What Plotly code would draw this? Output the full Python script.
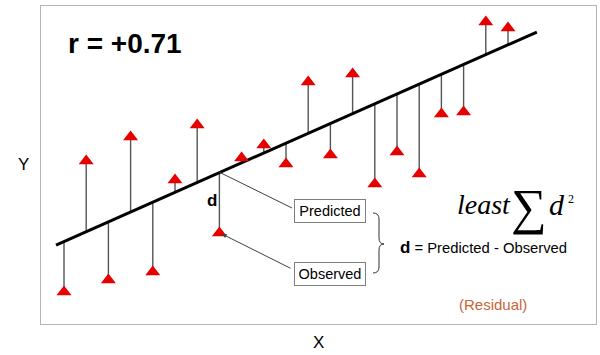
import plotly.graph_objects as go

# ---- data ----
x_idx = list(range(1, 22))
observed = [3.2, 16.3, 4.4, 18.7, 5.2, 14.4, 19.9, 9.1, 16.6, 17.9, 16.0,
            24.2, 16.9, 25.0, 14.0, 17.2, 15.0, 21.0, 21.2, 30.2, 29.6]
INTERCEPT = 7.27
SLOPE = 0.983
line_x = [0.64, 22.3]
r_label = "r = +0.71"

predicted = [INTERCEPT + SLOPE * x for x in x_idx]
line_y = [INTERCEPT + SLOPE * x for x in line_x]

# ---- layout helpers (pixel -> axis) ----
W, H = 600, 355
ML, MR, MT, MB = 41, 4, 6, 31
XR = [-0.036, 24.964]
YR = [0, 31.8]
pw, ph = W - ML - MR, H - MT - MB


def px2x(px):
    return XR[0] + (px - ML) / pw * (XR[1] - XR[0])


def px2y(py):
    return YR[0] + (H - MB - py) / ph * (YR[1] - YR[0])


def px2paper_x(px):
    return (px - ML) / pw


def px2paper_y(py):
    return (H - MB - py) / ph


# residual segments
rx, ry = [], []
for x, p, o in zip(x_idx, predicted, observed):
    rx += [x, x, None]
    ry += [p, o, None]

fig = go.Figure()
fig.add_trace(go.Scatter(x=rx, y=ry, mode="lines",
                         line=dict(color="#555555", width=1.4),
                         hoverinfo="skip", showlegend=False))
fig.add_trace(go.Scatter(x=line_x, y=line_y, mode="lines",
                         line=dict(color="black", width=3),
                         showlegend=False))
fig.add_trace(go.Scatter(x=x_idx, y=observed, mode="markers",
                         marker=dict(symbol="triangle-up", size=13,
                                     color="#e60000", line=dict(width=0)),
                         showlegend=False))

SANS = "Liberation Sans, Arial, sans-serif"
SERIF = "Liberation Serif, Times New Roman, serif"

ann = []
ann.append(dict(text="<b>%s</b>" % r_label, x=px2x(66), y=px2y(43),
                xanchor="left", yanchor="middle", showarrow=False,
                font=dict(family=SANS, size=28, color="black")))
ann.append(dict(text="Y", xref="paper", yref="paper", x=px2paper_x(23),
                y=px2paper_y(164), xanchor="center", yanchor="middle",
                showarrow=False,
                font=dict(family=SANS, size=17, color="black")))
ann.append(dict(text="X", xref="paper", yref="paper", x=px2paper_x(318),
                y=px2paper_y(342), xanchor="center", yanchor="middle",
                showarrow=False,
                font=dict(family=SANS, size=17, color="black")))
ann.append(dict(text="<b>d</b>", x=px2x(212), y=px2y(200), showarrow=False,
                font=dict(family=SANS, size=17, color="black")))
# boxes
for label, cy in [("Predicted", 211), ("Observed", 274)]:
    ann.append(dict(text=label, x=px2x(330), y=px2y(cy), showarrow=False,
                    bordercolor="#7f7f7f", borderwidth=1, borderpad=2,
                    bgcolor="white", width=66, height=18,
                    font=dict(family=SANS, size=14.5, color="black")))
# observed leader arrow
ann.append(dict(text="", x=px2x(222), y=px2y(234), ax=px2x(292),
                ay=px2y(269), axref="x", ayref="y", showarrow=True,
                arrowhead=2, arrowsize=0.9, arrowwidth=1, arrowcolor="#404040",
                standoff=0))
# equation
ann.append(dict(text="<b><span style='font-size:17px'>d</span></b> = Predicted - Observed",
                x=px2x(398), y=px2y(247), xanchor="left", showarrow=False,
                font=dict(family=SANS, size=14.8, color="black")))
ann.append(dict(text="<i>least</i>", x=px2x(513), y=px2y(204), xanchor="right",
                showarrow=False, font=dict(family=SERIF, size=28, color="black")))
ann.append(dict(text="∑", x=px2x(529), y=px2y(207), showarrow=False,
                font=dict(family=SERIF, size=50, color="black")))
ann.append(dict(text="<i>d</i>", x=px2x(547), y=px2y(204), xanchor="left",
                showarrow=False, font=dict(family=SERIF, size=30, color="black")))
ann.append(dict(text="2", x=px2x(571), y=px2y(199), showarrow=False,
                font=dict(family=SERIF, size=12, color="black")))
ann.append(dict(text="(Residual)", x=px2x(493), y=px2y(304), showarrow=False,
                font=dict(family=SANS, size=15, color="#c8643a")))

# predicted leader line and brace
shapes = [dict(type="line", x0=px2x(219), y0=px2y(172), x1=px2x(292),
               y1=px2y(208), line=dict(color="#404040", width=1))]
bx, tipx, top, mid, bot = 373, 384, 213, 244, 273
pts = [("M", bx, top), ("Q", bx + 6, top, bx + 6, top + 6),
       ("L", bx + 6, mid - 6), ("Q", bx + 6, mid, tipx, mid),
       ("Q", bx + 6, mid, bx + 6, mid + 6), ("L", bx + 6, bot - 6),
       ("Q", bx + 6, bot, bx, bot)]
path = ""
for p in pts:
    cmd = p[0]
    coords = p[1:]
    s = []
    for i in range(0, len(coords), 2):
        s.append("%.4f,%.4f" % (px2x(coords[i]), px2y(coords[i + 1])))
    path += cmd + " " + " ".join(s) + " "
shapes.append(dict(type="path", path=path.strip(),
                   line=dict(color="#333333", width=1)))

ax_style = dict(showgrid=False, zeroline=False, showticklabels=False,
                ticks="", showline=True, mirror=True, linecolor="#b4b4b4",
                linewidth=1)
fig.update_layout(
    width=W, height=H,
    margin=dict(l=ML, r=MR, t=MT, b=MB),
    paper_bgcolor="white", plot_bgcolor="white",
    xaxis=dict(range=XR, **ax_style),
    yaxis=dict(range=YR, **ax_style),
    annotations=ann, shapes=shapes, showlegend=False,
)
fig.write_html("out.html")
